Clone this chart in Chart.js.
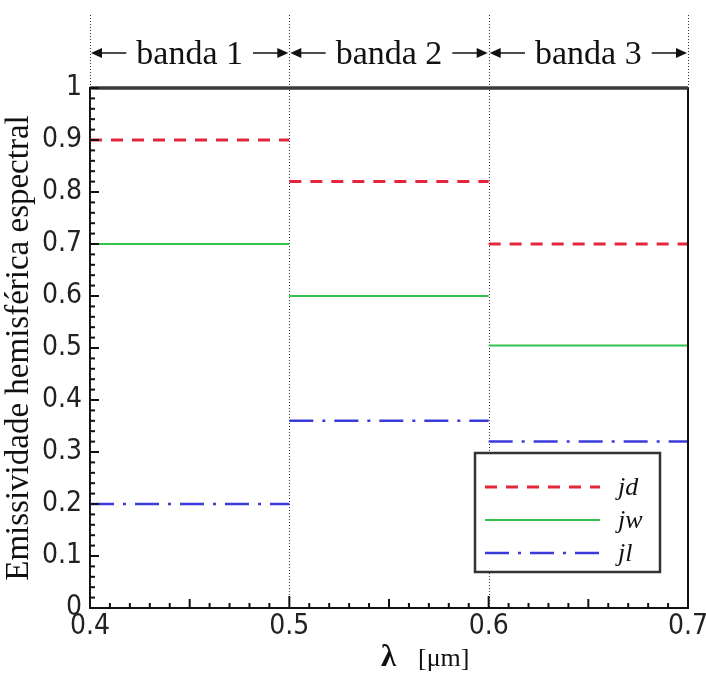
<!DOCTYPE html>
<html>
<head>
<meta charset="utf-8">
<script src="https://cdn.jsdelivr.net/npm/chart.js@4.4.1/dist/chart.umd.min.js"></script>
<style>
  html, body { margin: 0; padding: 0; background: #fff; }
  #wrap { width: 706px; height: 674px; }
</style>
</head>
<body>
<div id="wrap"><canvas id="emisChart" width="706" height="674"></canvas></div>
<script>
// band limits along lambda [um]
const bandEdges = [0.4, 0.5, 0.6, 0.7];
const bandLabels = ['banda 1', 'banda 2', 'banda 3'];

// emissivity per band
const jd = [0.90, 0.82, 0.70];
const jw = [0.70, 0.60, 0.505];
const jl = [0.20, 0.36, 0.32];

const xTicks = [0.4, 0.5, 0.6, 0.7];
const yTicks = [0, 0.1, 0.2, 0.3, 0.4, 0.5, 0.6, 0.7, 0.8, 0.9, 1];

const tickFont = { family: "'Liberation Sans Narrow', 'DejaVu Sans Condensed', sans-serif", size: 28 };

// one horizontal segment per band, broken with null between them
function steps(vals) {
  return vals.flatMap((v, i) => [
    { x: bandEdges[i], y: v },
    { x: bandEdges[i + 1], y: v },
    { x: bandEdges[i + 1], y: null },
  ]);
}

const datasets = [
  { label: 'jd', data: steps(jd), borderColor: '#e3263c', borderWidth: 3, borderDash: [12, 9] },
  { label: 'jw', data: steps(jw), borderColor: '#34c44e', borderWidth: 2, borderDash: [] },
  { label: 'jl', data: steps(jl), borderColor: '#3b3bdc', borderWidth: 2.5, borderDash: [24, 9, 3, 9] },
];

const decorations = {
  id: 'decorations',
  beforeDatasetsDraw(chart) {
    const { ctx, chartArea, scales: { x } } = chart;
    ctx.save();
    // dotted band boundaries
    ctx.strokeStyle = '#333';
    ctx.lineWidth = 1;
    ctx.setLineDash([1, 2]);
    bandEdges.forEach(e => {
      const px = Math.round(x.getPixelForValue(e)) + 0.5;
      ctx.beginPath();
      ctx.moveTo(px, 15);
      ctx.lineTo(px, chartArea.bottom);
      ctx.stroke();
    });
    ctx.restore();
  },
  afterDraw(chart) {
    const { ctx, chartArea, scales: { x, y } } = chart;
    ctx.save();

    // frame: right side and thick top
    ctx.strokeStyle = '#111';
    ctx.lineWidth = 2;
    ctx.beginPath();
    ctx.moveTo(chartArea.right, chartArea.top);
    ctx.lineTo(chartArea.right, chartArea.bottom);
    ctx.stroke();
    ctx.strokeStyle = '#3a3a3a';
    ctx.lineWidth = 3.5;
    ctx.beginPath();
    ctx.moveTo(chartArea.left, chartArea.top);
    ctx.lineTo(chartArea.right, chartArea.top);
    ctx.stroke();

    // inward minor ticks
    ctx.strokeStyle = '#111';
    ctx.lineWidth = 2;
    for (let i = 0; i <= 30; i++) {
      const px = x.getPixelForValue(0.4 + i * 0.01);
      const len = i % 10 === 0 ? 12 : (i % 5 === 0 ? 9 : 5);
      ctx.beginPath();
      ctx.moveTo(px, chartArea.bottom);
      ctx.lineTo(px, chartArea.bottom - len);
      ctx.stroke();
    }
    for (let i = 0; i <= 50; i++) {
      const py = y.getPixelForValue(i * 0.02);
      const len = i % 5 === 0 ? 9 : 5;
      ctx.beginPath();
      ctx.moveTo(chartArea.left, py);
      ctx.lineTo(chartArea.left + len, py);
      ctx.stroke();
    }

    // band labels with arrows
    ctx.fillStyle = '#111';
    ctx.strokeStyle = '#111';
    ctx.lineWidth = 1.5;
    ctx.font = "34px 'Liberation Serif', serif";
    ctx.textAlign = 'center';
    ctx.textBaseline = 'alphabetic';
    const ay = 53;
    const arrow = (x0, x1) => {
      const dir = Math.sign(x1 - x0);
      ctx.beginPath();
      ctx.moveTo(x0, ay);
      ctx.lineTo(x1 - dir * 9, ay);
      ctx.stroke();
      ctx.beginPath();
      ctx.moveTo(x1, ay);
      ctx.lineTo(x1 - dir * 11, ay - 5);
      ctx.lineTo(x1 - dir * 11, ay + 5);
      ctx.closePath();
      ctx.fill();
    };
    bandLabels.forEach((lab, i) => {
      const l = x.getPixelForValue(bandEdges[i]);
      const r = x.getPixelForValue(bandEdges[i + 1]);
      const cx = (l + r) / 2;
      const w = ctx.measureText(lab).width;
      ctx.fillText(lab, cx, ay + 11);
      arrow(cx - w / 2 - 10, l + 1);
      arrow(cx + w / 2 + 10, r - 1);
    });

    // x title
    ctx.textAlign = 'left';
    ctx.font = "bold 31px 'Liberation Serif', serif";
    ctx.fillText('λ', 381, 666);
    ctx.font = "26px 'Liberation Serif', serif";
    ctx.fillText('[μm]', 418, 666);

    // legend box
    const lx = 475, ly = 453, lw = 185, lh = 119;
    ctx.fillStyle = '#fff';
    ctx.fillRect(lx, ly, lw, lh);
    ctx.strokeStyle = '#333';
    ctx.lineWidth = 2.5;
    ctx.strokeRect(lx, ly, lw, lh);
    const rows = [487, 520, 553];
    chart.data.datasets.forEach((ds, i) => {
      ctx.strokeStyle = ds.borderColor;
      ctx.lineWidth = ds.borderWidth;
      ctx.setLineDash(ds.borderDash);
      ctx.beginPath();
      ctx.moveTo(lx + 10, rows[i]);
      ctx.lineTo(lx + 125, rows[i]);
      ctx.stroke();
      ctx.setLineDash([]);
      ctx.fillStyle = '#111';
      ctx.font = "italic 26px 'Liberation Serif', serif";
      ctx.fillText(ds.label, lx + 143, rows[i] + 8);
    });

    ctx.restore();
  },
};

new Chart(document.getElementById('emisChart'), {
  type: 'line',
  data: { datasets: datasets },
  options: {
    responsive: false,
    animation: false,
    layout: { padding: { top: 88, right: 18, left: 0, bottom: 0 } },
    elements: { point: { radius: 0 }, line: { tension: 0 } },
    spanGaps: false,
    plugins: { legend: { display: false }, tooltip: { enabled: false } },
    scales: {
      x: {
        type: 'linear',
        min: 0.4,
        max: 0.7,
        afterBuildTicks: s => { s.ticks = xTicks.map(v => ({ value: v })); },
        afterFit: s => { s.height = 66; s.paddingLeft = 0; s.paddingRight = 0; },
        ticks: {
          font: tickFont,
          color: '#222',
          padding: 2,
          maxRotation: 0,
          callback: v => v.toFixed(1),
        },
        grid: { display: false, drawTicks: false },
        border: { display: true, color: '#111', width: 2 },
      },
      y: {
        min: 0,
        max: 1,
        afterBuildTicks: s => { s.ticks = yTicks.map(v => ({ value: v })); },
        afterFit: s => { s.width = 90; s.paddingTop = 0; s.paddingBottom = 0; },
        ticks: {
          font: tickFont,
          color: '#222',
          padding: 8,
          callback: v => (v === 0 || v === 1) ? String(v) : v.toFixed(1),
        },
        grid: { display: false, drawTicks: false },
        border: { display: true, color: '#111', width: 2 },
        title: {
          display: true,
          text: 'Emissividade hemisférica espectral',
          font: { family: "'Liberation Serif', serif", size: 33 },
          color: '#111',
          padding: 0,
        },
      },
    },
  },
  plugins: [decorations],
});
</script>
</body>
</html>
